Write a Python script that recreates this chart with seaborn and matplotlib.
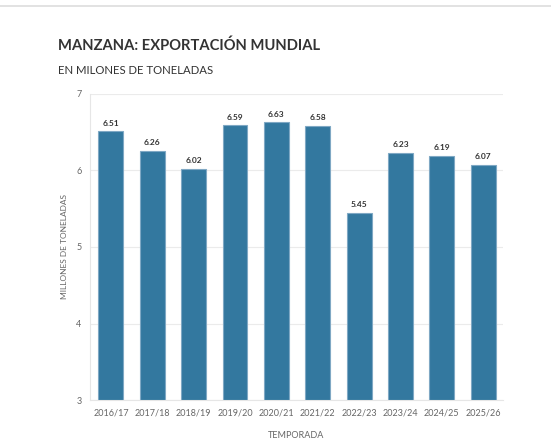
import seaborn as sns
import matplotlib.pyplot as plt
import pandas as pd
from matplotlib.lines import Line2D

temporadas = ['2016/17', '2017/18', '2018/19', '2019/20', '2020/21',
              '2021/22', '2022/23', '2023/24', '2024/25', '2025/26']
exportacion = [6.51, 6.26, 6.02, 6.59, 6.63, 6.58, 5.45, 6.23, 6.19, 6.07]

df = pd.DataFrame({'Temporada': temporadas, 'Exportacion': exportacion})

sns.set_theme(style="white")
plt.rcParams['font.family'] = ['Lato', 'DejaVu Sans']

fig = plt.figure(figsize=(5.51, 4.47), dpi=100)
ax = fig.add_axes([0.163, 0.105, 0.750, 0.685])

sns.barplot(data=df, x='Temporada', y='Exportacion', color='#33789f',
            width=0.6, saturation=1, edgecolor='#7fa8c4', linewidth=0.8, ax=ax)

for i, v in enumerate(exportacion):
    ax.text(i, v + 0.06, f'{v:.2f}', ha='center', va='bottom',
            fontsize=6, fontweight='bold', color='#333333')

ax.set_ylim(3, 7)
ax.set_yticks([3, 4, 5, 6, 7])
ax.set_xlim(-0.51, 9.48)
ax.grid(axis='y', color='#ebebeb', linewidth=0.8)
ax.set_axisbelow(True)
for s in ['top', 'right']:
    ax.spines[s].set_visible(False)
for s in ['left', 'bottom']:
    ax.spines[s].set_color('#e6e6e6')
    ax.spines[s].set_linewidth(0.8)
ax.tick_params(axis='both', length=3, color='#e6e6e6', labelsize=6.5,
               labelcolor='#666666', pad=3)
ax.set_xlabel('TEMPORADA', fontsize=6.5, color='#666666', labelpad=10)
ax.set_ylabel('MILLONES DE TONELADAS', fontsize=6, color='#666666', labelpad=6)

fig.text(0.105, 0.897, 'MANZANA: EXPORTACIÓN MUNDIAL', fontsize=10.6,
         fontweight='bold', color='#333333', va='center')
fig.text(0.105, 0.843, 'EN MILONES DE TONELADAS', fontsize=8.2,
         color='#333333', va='center')
fig.add_artist(Line2D([0, 1], [0.986, 0.986], color='#dddddd', linewidth=1.2,
                      transform=fig.transFigure))

fig.savefig('out.png', dpi=100)
